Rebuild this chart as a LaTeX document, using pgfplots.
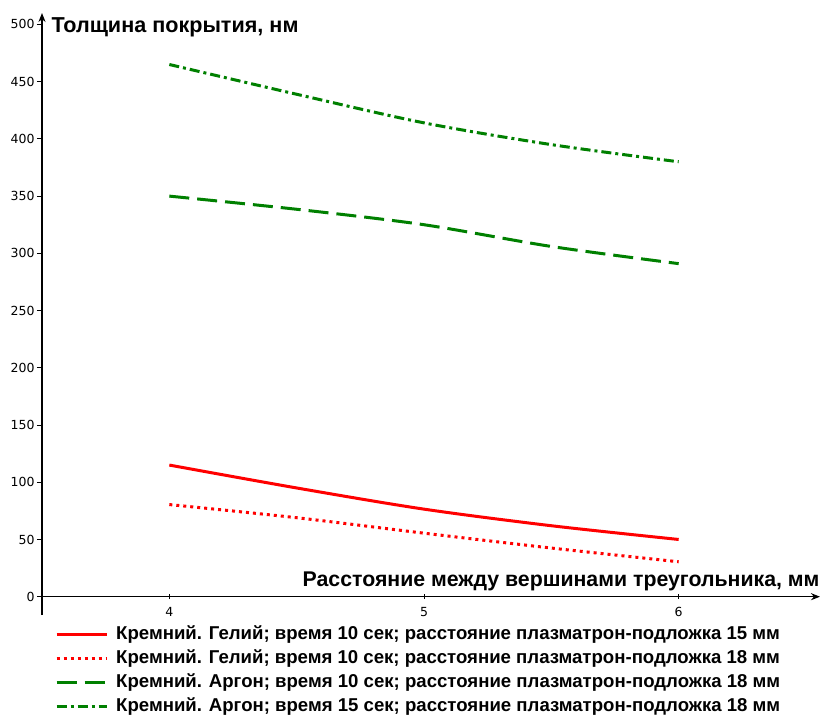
\documentclass[border=0pt]{standalone}
\usepackage{fontspec}
\setmainfont{Liberation Sans}
\newfontfamily\tickfont{DejaVu Sans}
\usepackage{pgfplots}
\pgfplotsset{compat=1.18}
\usetikzlibrary{arrows.meta}
\definecolor{lred}{RGB}{255,0,0}
\definecolor{lgreen}{RGB}{0,128,0}
\begin{document}
\begin{tikzpicture}[x=1pt,y=1pt]
\path[use as bounding box] (-42,-100) rectangle (779,615);
\begin{axis}[
  scale only axis, width=778pt, height=602pt,
  xmin=3.5, xmax=6.555, ymin=-16, ymax=510,
  axis y line=left, axis x line=middle,
  axis line style={line width=1.5pt, -{Stealth[length=9pt,width=7pt]}},
  xtick={4,5,6}, ytick={0,50,...,500},
  tick align=outside, major tick length=5pt,
  every tick/.style={black, line width=1pt},
  xtick style={yshift=2.5pt},
  /pgf/number format/assume math mode=true,
  tick label style={font=\tickfont\fontsize{12.5}{13}\selectfont},
  yticklabel style={xshift=1pt},
  xticklabel style={yshift=-2pt},
  ylabel={Толщина покрытия, нм},
  xlabel={Расстояние между вершинами треугольника, мм},
  every axis y label/.style={at={(axis description cs:0,1)}, anchor=west, xshift=6pt, yshift=-14pt, font=\bfseries\fontsize{21.6}{24}\selectfont},
  every axis x label/.style={at={(axis cs:6.555,0)}, anchor=base east, xshift=3pt, yshift=10pt, font=\bfseries\fontsize{21.3}{24}\selectfont},
  legend style={at={(rel axis cs:0,0)}, anchor=north west, xshift=13pt, yshift=-11pt,
    draw=none, fill=none, inner sep=0pt, row sep=7pt,
    font=\bfseries\fontsize{18.6}{20}\selectfont,
    nodes={inner sep=0pt, text height=13pt, text depth=4pt},
    /tikz/every odd column/.append style={column sep=8pt}},
  legend cell align=left,
  legend image code/.code={\draw[#1] (0pt,0pt) -- (50pt,0pt);},
]
\addplot[lred, line width=3pt, smooth] coordinates {(4,115)(4.5,95)(5,76.5)(5.5,62)(6,50)};
\addlegendentry{Кремний. Гелий; время 10 сек; расстояние плазматрон-подложка 15 мм}
\addplot[lred, line width=3pt, smooth, dash pattern=on 3pt off 4pt] coordinates {(4,80.5)(4.5,69)(5,55.5)(5.5,42.5)(6,30.5)};
\addlegendentry{Кремний. Гелий; время 10 сек; расстояние плазматрон-подложка 18 мм}
\addplot[lgreen, line width=3pt, smooth, dash pattern=on 20pt off 8pt] coordinates {(4,350)(4.5,338.5)(5,325)(5.5,306)(6,291)};
\addlegendentry{Кремний. Аргон; время 10 сек; расстояние плазматрон-подложка 18 мм}
\addplot[lgreen, line width=3pt, smooth, dash pattern=on 10pt off 4pt on 3pt off 4pt] coordinates {(4,465)(4.5,439)(5,414)(5.5,395)(6,380)};
\addlegendentry{Кремний. Аргон; время 15 сек; расстояние плазматрон-подложка 18 мм}
\end{axis}
\end{tikzpicture}
\end{document}
